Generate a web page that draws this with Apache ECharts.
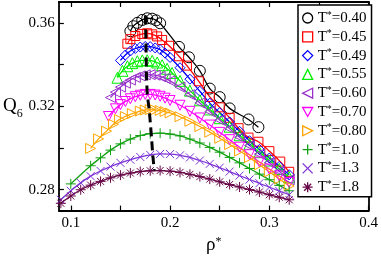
<!DOCTYPE html>
<html><head><meta charset="utf-8">
<script src="https://cdn.jsdelivr.net/npm/echarts@6/dist/echarts.min.js"></script>
<style>html,body{margin:0;padding:0;background:#fff}#c{width:381px;height:260px}</style>
</head><body><div id="c"></div>
<script>
// ---- data ----
const temperatures = ['0.40','0.45','0.49','0.55','0.60','0.70','0.80','1.0','1.3','1.8'];

const x040 = [0.160,0.163,0.167,0.172,0.177,0.182,0.186,0.190,0.209,0.219,0.230,0.240,0.250,0.260,0.279,0.289];
const y040 = [0.3560,0.3584,0.3600,0.3614,0.3622,0.3620,0.3612,0.3598,0.3485,0.3435,0.3370,0.3285,0.3244,0.3190,0.3137,0.3100];

const x045 = [0.157,0.160,0.165,0.172,0.177,0.182,0.187,0.192,0.199,0.209,0.217,0.229,0.240,0.250,0.260,0.269,0.279,0.289,0.300,0.311,0.320];
const y045 = [0.3500,0.3522,0.3537,0.3547,0.3550,0.3545,0.3535,0.3518,0.3490,0.3440,0.3395,0.3320,0.3245,0.3195,0.3145,0.3095,0.3050,0.3030,0.2985,0.2935,0.2886];

const x049 = [0.150,0.155,0.160,0.165,0.170,0.175,0.180,0.185,0.190,0.195,0.200,0.210,0.220,0.230,0.240,0.250,0.260,0.270,0.280,0.290,0.300,0.310,0.320];
const y049 = [0.3420,0.3446,0.3465,0.3477,0.3484,0.3487,0.3486,0.3480,0.3472,0.3455,0.3434,0.3385,0.3330,0.3272,0.3215,0.3170,0.3125,0.3080,0.3035,0.2993,0.2952,0.2912,0.2872];

const x055 = [0.147,0.152,0.157,0.162,0.167,0.172,0.177,0.182,0.187,0.192,0.197,0.202,0.210,0.220,0.230,0.240,0.250,0.260,0.270,0.280,0.290,0.300,0.310,0.320];
const y055 = [0.3337,0.3370,0.3392,0.3407,0.3416,0.3420,0.3421,0.3418,0.3410,0.3397,0.3380,0.3360,0.3322,0.3275,0.3229,0.3185,0.3143,0.3102,0.3061,0.3020,0.2980,0.2940,0.2900,0.2860];

const x060 = [0.140,0.145,0.150,0.155,0.160,0.165,0.170,0.175,0.180,0.185,0.190,0.195,0.200,0.210,0.220,0.230,0.240,0.250,0.260,0.270,0.280,0.290,0.300,0.310,0.320];
const y060 = [0.3242,0.3268,0.3292,0.3311,0.3326,0.3338,0.3346,0.3351,0.3352,0.3349,0.3343,0.3334,0.3322,0.3292,0.3256,0.3216,0.3175,0.3134,0.3093,0.3052,0.3012,0.2971,0.2930,0.2889,0.2848];

const x070 = [0.138,0.145,0.150,0.155,0.160,0.165,0.170,0.175,0.180,0.185,0.190,0.195,0.200,0.210,0.220,0.230,0.240,0.250,0.260,0.270,0.280,0.290,0.300,0.310,0.320];
const y070 = [0.3151,0.3188,0.3208,0.3223,0.3236,0.3246,0.3253,0.3257,0.3257,0.3254,0.3248,0.3239,0.3228,0.3205,0.3176,0.3144,0.3110,0.3075,0.3040,0.3004,0.2968,0.2933,0.2899,0.2866,0.2835];

const x080 = [0.120,0.128,0.136,0.143,0.149,0.155,0.162,0.170,0.175,0.180,0.185,0.190,0.195,0.200,0.210,0.220,0.230,0.240,0.250,0.260,0.270,0.280,0.290,0.300,0.310,0.320];
const y080 = [0.2998,0.3044,0.3081,0.3114,0.3137,0.3151,0.3165,0.3177,0.3182,0.3184,0.3183,0.3180,0.3175,0.3168,0.3150,0.3128,0.3103,0.3076,0.3047,0.3017,0.2986,0.2955,0.2920,0.2886,0.2852,0.2818];

const x100 = [0.10,0.12,0.13,0.14,0.15,0.16,0.17,0.18,0.19,0.20,0.21,0.22,0.23,0.24,0.25,0.26,0.27,0.28,0.29,0.30,0.31,0.32];
const y100 = [0.2828,0.2915,0.2953,0.2990,0.3020,0.3043,0.3060,0.3069,0.3071,0.3067,0.3058,0.3043,0.3024,0.3003,0.2980,0.2955,0.2929,0.2902,0.2875,0.2848,0.2821,0.2795];

const x130 = [0.09,0.10,0.11,0.12,0.13,0.14,0.15,0.16,0.17,0.18,0.19,0.20,0.21,0.22,0.23,0.24,0.25,0.26,0.27,0.28,0.29,0.30,0.31,0.32];
const y130 = [0.2752,0.2795,0.2833,0.2865,0.2890,0.2911,0.2929,0.2944,0.2957,0.2967,0.2972,0.2971,0.2965,0.2955,0.2940,0.2924,0.2906,0.2887,0.2868,0.2849,0.2831,0.2812,0.2794,0.2776];

const x180 = [0.09,0.10,0.11,0.12,0.13,0.14,0.15,0.16,0.17,0.18,0.19,0.20,0.21,0.22,0.23,0.24,0.25,0.26,0.27,0.28,0.29,0.30,0.31,0.32];
const y180 = [0.2735,0.2770,0.2800,0.2822,0.2840,0.2857,0.2870,0.2880,0.2887,0.2891,0.2892,0.2889,0.2883,0.2874,0.2863,0.2851,0.2838,0.2825,0.2813,0.2801,0.2789,0.2776,0.2764,0.2752];

// line through the maxima
const dashX = [0.1752,0.1755,0.1758,0.1760,0.1762,0.1770,0.1790,0.1810,0.1825,0.1840];
const dashY = [0.3635,0.3550,0.3487,0.3421,0.3352,0.3257,0.3184,0.3071,0.2972,0.2893];

const xTicks = [0.1,0.15,0.2,0.25,0.3,0.35,0.4];
const xLabels = [0.1,0.2,0.3,0.4];
const yTicks = [0.28,0.30,0.32,0.34,0.36];
const yLabels = [0.28,0.32,0.36];

// ---- styling ----
const xs = [x040,x045,x049,x055,x060,x070,x080,x100,x130,x180];
const ys = [y040,y045,y049,y055,y060,y070,y080,y100,y130,y180];
const colors = ['#000000','#ff0000','#0000ff','#00ee00','#9932cc','#ff00ff','#ffa500','#10a010','#7d33d6','#670748'];
const symbols = [
  'circle','rect','path://M5,0L10,5L5,10L0,5Z','triangle',
  'path://M10,0L10,10L0,5Z',
  'path://M0,0L10,0L5,9Z',
  'path://M0,0L0,10L10,5Z',
  'path://M5,0L5,10M0,5L10,5',
  'path://M0,0L10,10M10,0L0,10',
  'path://M5,0L5,10M0,5L10,5M1.5,1.5L8.5,8.5M8.5,1.5L1.5,8.5'
];
const sizes = [11,9,10,11,10,10,10,10,8,10];
const FONT = 'Liberation Serif';

function pairs(a,b){ return a.map((v,i)=>[v,b[i]]); }

const series = temperatures.map((t,i)=>({
  name: t, type: 'line', data: pairs(xs[i], ys[i]),
  symbol: symbols[i], symbolSize: sizes[i], smooth: 0.4,
  lineStyle: {color: colors[i], width: 1.3},
  itemStyle: {color: 'rgba(0,0,0,0)', borderColor: colors[i], borderWidth: 1},
  emphasis: {disabled: true}, z: 2
}));
series.push({
  name: 'max', type: 'line', data: pairs(dashX, dashY), symbol: 'none',
  lineStyle: {color: '#000', width: 3, type: [9,5]}, emphasis: {disabled: true}, z: 3
});

const axisCommon = {
  axisLine: {show: true, lineStyle: {color: '#000', width: 1.8}},
  splitLine: {show: false}
};

const chart = echarts.init(document.getElementById('c'), null, {renderer: 'canvas'});
chart.setOption({
  animation: false,
  backgroundColor: '#fff',
  grid: {left: 55, right: 11, top: 2, bottom: 43},
  xAxis: [
    Object.assign({type: 'value', min: 0.088, max: 0.4, position: 'bottom',
      axisTick: {inside: true, length: 5, customValues: xTicks, lineStyle: {color: '#000', width: 1.2}},
      axisLabel: {customValues: xLabels, color: '#000', fontFamily: FONT, fontSize: 15, margin: 5},
      name: '{r|ρ}{s|*}', nameLocation: 'middle', nameGap: 24,
      nameTextStyle: {rich: {r: {fontFamily: FONT, fontSize: 19, color: '#000', lineHeight: 20},
                             s: {fontFamily: FONT, fontSize: 12, color: '#000', lineHeight: 12, verticalAlign: 'top'}}}
    }, axisCommon),
    Object.assign({type: 'value', min: 0.088, max: 0.4, position: 'top',
      axisTick: {inside: true, length: 5, customValues: xTicks, lineStyle: {color: '#000', width: 1.2}},
      axisLabel: {show: false}
    }, axisCommon)
  ],
  yAxis: [
    Object.assign({type: 'value', min: 0.27, max: 0.37, position: 'left',
      axisTick: {inside: true, length: 5, customValues: yTicks, lineStyle: {color: '#000', width: 1.2}},
      axisLabel: {customValues: yLabels, color: '#000', fontFamily: FONT, fontSize: 15, margin: 4,
                  formatter: v => v.toFixed(2)},
      name: '{q|Q}{n|6}', nameLocation: 'middle', nameRotate: 0, nameGap: 36,
      nameTextStyle: {rich: {q: {fontFamily: FONT, fontSize: 19, color: '#000', lineHeight: 20},
                             n: {fontFamily: FONT, fontSize: 12, color: '#000', lineHeight: 12, verticalAlign: 'bottom', padding: [0,0,-4,0]}}}
    }, axisCommon),
    Object.assign({type: 'value', min: 0.27, max: 0.37, position: 'right',
      axisTick: {inside: true, length: 5, customValues: yTicks, lineStyle: {color: '#000', width: 1.2}},
      axisLabel: {show: false}
    }, axisCommon)
  ],
  legend: {
    orient: 'vertical', left: 298, top: 5, padding: [5,5,2,4],
    itemGap: 3.3, itemWidth: 10, itemHeight: 10,
    borderColor: '#000', borderWidth: 1.5, borderRadius: 0, backgroundColor: '#fff',
    selectedMode: false,
    formatter: name => '{t|T}{s|*}{t|=' + name + '}',
    textStyle: {color: '#000', fontFamily: FONT, fontSize: 15,
      rich: {t: {fontFamily: FONT, fontSize: 15, lineHeight: 16, color: '#000'},
             s: {fontFamily: FONT, fontSize: 10, lineHeight: 10, color: '#000', verticalAlign: 'top'}}},
    data: temperatures.map((t,i)=>({name: t, icon: symbols[i],
      itemStyle: {color: 'rgba(0,0,0,0)', borderColor: colors[i], borderWidth: 1.3}}))
  },
  series: series
});
</script>
</body></html>
